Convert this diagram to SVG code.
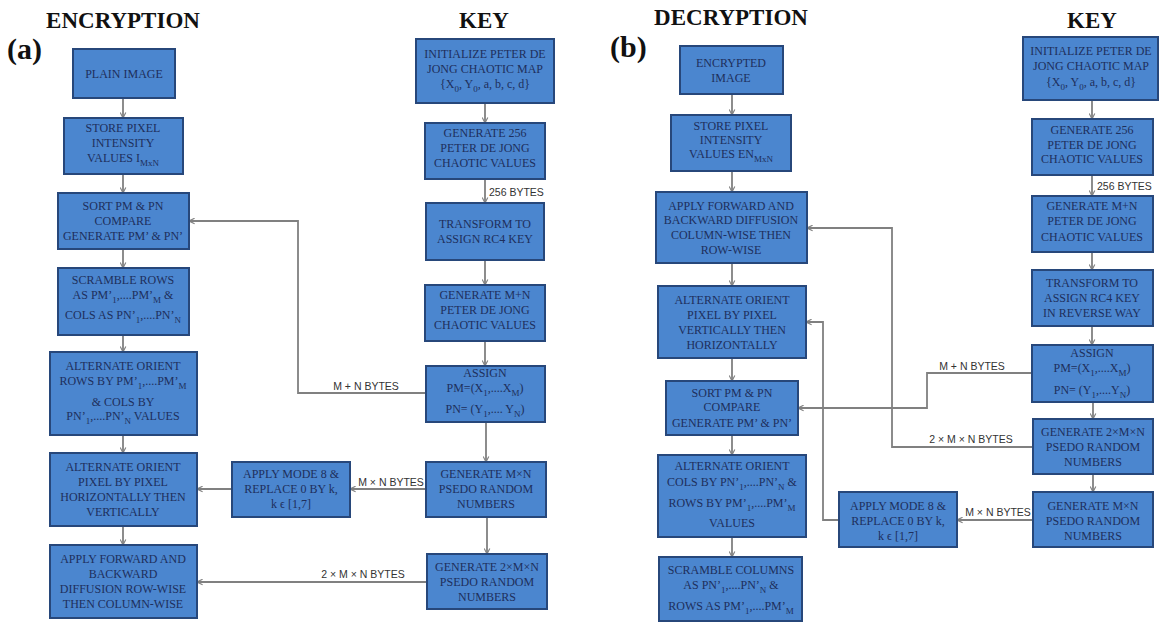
<svg xmlns="http://www.w3.org/2000/svg" width="1159" height="623" viewBox="0 0 1159 623">
  <defs>
    <marker id="arr" viewBox="0 0 10 10" refX="9" refY="5" markerWidth="7" markerHeight="7" orient="auto" markerUnits="userSpaceOnUse">
      <path d="M1,1 L9,5 L1,9" fill="none" stroke="#808080" stroke-width="1.6"/>
    </marker>
    <style>
      .box { fill: #4b86cf; stroke: #27477a; stroke-width: 2; }
      .t { font-family: "Liberation Serif", "Times New Roman", serif; font-size: 12px; fill: #1e2f5c; text-anchor: middle; }
      .sub { font-size: 9px; }
      .title { font-family: "Liberation Serif", "Times New Roman", serif; font-weight: bold; font-size: 23px; fill: #111; text-anchor: middle; }
      .tag { font-family: "Liberation Serif", "Times New Roman", serif; font-weight: bold; font-size: 30px; fill: #111; }
      .lbl { font-family: "Liberation Sans", Arial, sans-serif; font-size: 10.5px; fill: #333; }
      .c { fill: none; stroke: #808080; stroke-width: 1.8; marker-end: url(#arr); }
    </style>
  </defs>
  <rect width="1159" height="623" fill="#ffffff"/>

  <!-- headings -->
  <g id="headings">
    <text class="title" x="123" y="28">ENCRYPTION</text>
    <text class="title" x="484" y="28">KEY</text>
    <text class="title" x="731" y="25">DECRYPTION</text>
    <text class="title" x="1092" y="28">KEY</text>
    <text class="tag" x="7" y="59">(a)</text>
    <text class="tag" x="610" y="57">(b)</text>
  </g>

  <!-- connectors -->
  <g id="connectors">
    <!-- (a) encryption chain -->
    <path class="c" d="M123,98 V118"/>
    <path class="c" d="M123,174 V193"/>
    <path class="c" d="M123,249 V268"/>
    <path class="c" d="M123,335 V352"/>
    <path class="c" d="M123,435 V453"/>
    <path class="c" d="M123,526 V545"/>
    <!-- (a) key chain -->
    <path class="c" d="M485,103 V123"/>
    <path class="c" d="M485,179 V203"/>
    <path class="c" d="M485,260 V285"/>
    <path class="c" d="M485,341 V366"/>
    <path class="c" d="M486,422 V462"/>
    <path class="c" d="M487,517 V554"/>
    <!-- (a) cross links -->
    <path class="c" d="M426,393 H298 V221 H189"/>
    <path class="c" d="M426,489 H350"/>
    <path class="c" d="M232,489 H197"/>
    <path class="c" d="M427,582 H197"/>
    <text class="lbl" x="489" y="196">256 BYTES</text>
    <text class="lbl" x="366" y="390" text-anchor="middle">M + N BYTES</text>
    <text class="lbl" x="391" y="486" text-anchor="middle">M × N BYTES</text>
    <text class="lbl" x="363" y="578" text-anchor="middle">2 × M × N BYTES</text>

    <!-- (b) decryption chain -->
    <path class="c" d="M732,94 V115"/>
    <path class="c" d="M732,171 V192"/>
    <path class="c" d="M732,263 V286"/>
    <path class="c" d="M732,358 V381"/>
    <path class="c" d="M732,435 V455"/>
    <path class="c" d="M732,537 V557"/>
    <!-- (b) key chain -->
    <path class="c" d="M1092,100 V119"/>
    <path class="c" d="M1092,175 V196"/>
    <path class="c" d="M1092,252 V270"/>
    <path class="c" d="M1092,326 V345"/>
    <path class="c" d="M1093,402 V419"/>
    <path class="c" d="M1093,474 V492"/>
    <!-- (b) cross links -->
    <path class="c" d="M1032,373 H927 V408 H798"/>
    <path class="c" d="M1033,447 H892 V228 H807"/>
    <path class="c" d="M1033,520 H957"/>
    <path class="c" d="M839,520 H823 V322 H806"/>
    <text class="lbl" x="1097" y="190">256 BYTES</text>
    <text class="lbl" x="972" y="370" text-anchor="middle">M + N BYTES</text>
    <text class="lbl" x="971" y="443" text-anchor="middle">2 × M × N BYTES</text>
    <text class="lbl" x="998" y="516" text-anchor="middle">M × N BYTES</text>
  </g>

  <!-- (a) encryption nodes -->
  <g id="enc-plain">
    <rect class="box" x="73" y="49" width="102" height="49"/>
    <text class="t" x="124" y="78">PLAIN IMAGE</text>
  </g>
  <g id="enc-store">
    <rect class="box" x="64" y="118" width="119" height="56"/>
    <text class="t" x="123" y="132">STORE PIXEL</text>
    <text class="t" x="123" y="147">INTENSITY</text>
    <text class="t" x="123" y="162">VALUES I<tspan class="sub" dy="4">MxN</tspan></text>
  </g>
  <g id="enc-sort">
    <rect class="box" x="58" y="193" width="131" height="56"/>
    <text class="t" x="123" y="210">SORT PM &amp; PN</text>
    <text class="t" x="123" y="225">COMPARE</text>
    <text class="t" x="123" y="240">GENERATE PM’ &amp; PN’</text>
  </g>
  <g id="enc-scramble">
    <rect class="box" x="58" y="268" width="131" height="67"/>
    <text class="t" x="123" y="284">SCRAMBLE ROWS</text>
    <text class="t" x="123" y="299">AS PM’<tspan class="sub" dy="4">1</tspan><tspan dy="-4">,....PM’</tspan><tspan class="sub" dy="4">M</tspan><tspan dy="-4"> &amp;</tspan></text>
    <text class="t" x="123" y="319">COLS AS PN’<tspan class="sub" dy="4">1</tspan><tspan dy="-4">,....PN’</tspan><tspan class="sub" dy="4">N</tspan></text>
  </g>
  <g id="enc-orient-rows">
    <rect class="box" x="50" y="352" width="147" height="83"/>
    <text class="t" x="123" y="370">ALTERNATE ORIENT</text>
    <text class="t" x="123" y="385">ROWS BY PM’<tspan class="sub" dy="4">1</tspan><tspan dy="-4">,....PM’</tspan><tspan class="sub" dy="4">M</tspan></text>
    <text class="t" x="123" y="406">&amp; COLS BY</text>
    <text class="t" x="123" y="420">PN’<tspan class="sub" dy="4">1</tspan><tspan dy="-4">,....PN’</tspan><tspan class="sub" dy="4">N</tspan><tspan dy="-4"> VALUES</tspan></text>
  </g>
  <g id="enc-orient-pixel">
    <rect class="box" x="50" y="453" width="147" height="73"/>
    <text class="t" x="123" y="471">ALTERNATE ORIENT</text>
    <text class="t" x="123" y="486">PIXEL BY PIXEL</text>
    <text class="t" x="123" y="501">HORIZONTALLY THEN</text>
    <text class="t" x="123" y="516">VERTICALLY</text>
  </g>
  <g id="enc-diffusion">
    <rect class="box" x="50" y="545" width="147" height="73"/>
    <text class="t" x="123" y="563">APPLY FORWARD AND</text>
    <text class="t" x="123" y="578">BACKWARD</text>
    <text class="t" x="123" y="593">DIFFUSION ROW-WISE</text>
    <text class="t" x="123" y="608">THEN COLUMN-WISE</text>
  </g>

  <!-- (a) key nodes -->
  <g id="key-a-init">
    <rect class="box" x="416" y="39" width="138" height="64"/>
    <text class="t" x="485" y="58">INITIALIZE PETER DE</text>
    <text class="t" x="485" y="73">JONG CHAOTIC MAP</text>
    <text class="t" x="485" y="88">{X<tspan class="sub" dy="4">0</tspan><tspan dy="-4">, Y</tspan><tspan class="sub" dy="4">0</tspan><tspan dy="-4">, a, b, c, d}</tspan></text>
  </g>
  <g id="key-a-gen256">
    <rect class="box" x="425" y="123" width="120" height="56"/>
    <text class="t" x="485" y="137">GENERATE 256</text>
    <text class="t" x="485" y="152">PETER DE JONG</text>
    <text class="t" x="485" y="167">CHAOTIC VALUES</text>
  </g>
  <g id="key-a-rc4">
    <rect class="box" x="426" y="203" width="118" height="57"/>
    <text class="t" x="485" y="228">TRANSFORM TO</text>
    <text class="t" x="485" y="243">ASSIGN RC4 KEY</text>
  </g>
  <g id="key-a-genmn">
    <rect class="box" x="425" y="285" width="120" height="56"/>
    <text class="t" x="485" y="299">GENERATE M+N</text>
    <text class="t" x="485" y="314">PETER DE JONG</text>
    <text class="t" x="485" y="329">CHAOTIC VALUES</text>
  </g>
  <g id="key-a-assign">
    <rect class="box" x="426" y="366" width="119" height="56"/>
    <text class="t" x="485" y="377">ASSIGN</text>
    <text class="t" x="485" y="392">PM=(X<tspan class="sub" dy="4">1</tspan><tspan dy="-4">,....X</tspan><tspan class="sub" dy="4">M</tspan><tspan dy="-4">)</tspan></text>
    <text class="t" x="485" y="413">PN= (Y<tspan class="sub" dy="4">1</tspan><tspan dy="-4">,.... Y</tspan><tspan class="sub" dy="4">N</tspan><tspan dy="-4">)</tspan></text>
  </g>
  <g id="key-a-prng">
    <rect class="box" x="426" y="462" width="120" height="55"/>
    <text class="t" x="486" y="478">GENERATE M×N</text>
    <text class="t" x="486" y="493">PSEDO RANDOM</text>
    <text class="t" x="486" y="508">NUMBERS</text>
  </g>
  <g id="key-a-mode">
    <rect class="box" x="232" y="462" width="118" height="55"/>
    <text class="t" x="291" y="478">APPLY MODE 8 &amp;</text>
    <text class="t" x="291" y="493">REPLACE 0 BY k,</text>
    <text class="t" x="291" y="508">k ϵ [1,7]</text>
  </g>
  <g id="key-a-prng2">
    <rect class="box" x="427" y="554" width="120" height="55"/>
    <text class="t" x="487" y="571">GENERATE 2×M×N</text>
    <text class="t" x="487" y="586">PSEDO RANDOM</text>
    <text class="t" x="487" y="601">NUMBERS</text>
  </g>

  <!-- (b) decryption nodes -->
  <g id="dec-encrypted">
    <rect class="box" x="680" y="46" width="103" height="48"/>
    <text class="t" x="731" y="67">ENCRYPTED</text>
    <text class="t" x="731" y="82">IMAGE</text>
  </g>
  <g id="dec-store">
    <rect class="box" x="671" y="115" width="120" height="56"/>
    <text class="t" x="731" y="130">STORE PIXEL</text>
    <text class="t" x="731" y="144">INTENSITY</text>
    <text class="t" x="731" y="158">VALUES EN<tspan class="sub" dy="4">MxN</tspan></text>
  </g>
  <g id="dec-diffusion">
    <rect class="box" x="656" y="192" width="151" height="71"/>
    <text class="t" x="731" y="210">APPLY FORWARD AND</text>
    <text class="t" x="731" y="224">BACKWARD DIFFUSION</text>
    <text class="t" x="731" y="239">COLUMN-WISE THEN</text>
    <text class="t" x="731" y="254">ROW-WISE</text>
  </g>
  <g id="dec-orient-pixel">
    <rect class="box" x="658" y="286" width="148" height="72"/>
    <text class="t" x="732" y="304">ALTERNATE ORIENT</text>
    <text class="t" x="732" y="319">PIXEL BY PIXEL</text>
    <text class="t" x="732" y="334">VERTICALLY THEN</text>
    <text class="t" x="732" y="349">HORIZONTALLY</text>
  </g>
  <g id="dec-sort">
    <rect class="box" x="666" y="381" width="132" height="54"/>
    <text class="t" x="732" y="397">SORT PM &amp; PN</text>
    <text class="t" x="732" y="411">COMPARE</text>
    <text class="t" x="732" y="427">GENERATE PM’ &amp; PN’</text>
  </g>
  <g id="dec-orient-cols">
    <rect class="box" x="658" y="455" width="148" height="82"/>
    <text class="t" x="732" y="470">ALTERNATE ORIENT</text>
    <text class="t" x="732" y="486">COLS BY PN’<tspan class="sub" dy="4">1</tspan><tspan dy="-4">,....PN’</tspan><tspan class="sub" dy="4">N</tspan><tspan dy="-4"> &amp;</tspan></text>
    <text class="t" x="732" y="507">ROWS BY PM’<tspan class="sub" dy="4">1</tspan><tspan dy="-4">,....PM’</tspan><tspan class="sub" dy="4">M</tspan></text>
    <text class="t" x="732" y="527">VALUES</text>
  </g>
  <g id="dec-scramble">
    <rect class="box" x="659" y="557" width="143" height="64"/>
    <text class="t" x="731" y="574">SCRAMBLE COLUMNS</text>
    <text class="t" x="731" y="589">AS PN’<tspan class="sub" dy="4">1</tspan><tspan dy="-4">,....PN’</tspan><tspan class="sub" dy="4">N</tspan><tspan dy="-4"> &amp;</tspan></text>
    <text class="t" x="731" y="610">ROWS AS PM’<tspan class="sub" dy="4">1</tspan><tspan dy="-4">,....PM’</tspan><tspan class="sub" dy="4">M</tspan></text>
  </g>

  <!-- (b) key nodes -->
  <g id="key-b-init">
    <rect class="box" x="1023" y="37" width="135" height="63"/>
    <text class="t" x="1091" y="55">INITIALIZE PETER DE</text>
    <text class="t" x="1091" y="70">JONG CHAOTIC MAP</text>
    <text class="t" x="1091" y="86">{X<tspan class="sub" dy="4">0</tspan><tspan dy="-4">, Y</tspan><tspan class="sub" dy="4">0</tspan><tspan dy="-4">, a, b, c, d}</tspan></text>
  </g>
  <g id="key-b-gen256">
    <rect class="box" x="1032" y="119" width="121" height="56"/>
    <text class="t" x="1092" y="134">GENERATE 256</text>
    <text class="t" x="1092" y="149">PETER DE JONG</text>
    <text class="t" x="1092" y="163">CHAOTIC VALUES</text>
  </g>
  <g id="key-b-genmn">
    <rect class="box" x="1032" y="196" width="121" height="56"/>
    <text class="t" x="1092" y="210">GENERATE M+N</text>
    <text class="t" x="1092" y="225">PETER DE JONG</text>
    <text class="t" x="1092" y="241">CHAOTIC VALUES</text>
  </g>
  <g id="key-b-rc4">
    <rect class="box" x="1032" y="270" width="121" height="56"/>
    <text class="t" x="1092" y="287">TRANSFORM TO</text>
    <text class="t" x="1092" y="302">ASSIGN RC4 KEY</text>
    <text class="t" x="1092" y="317">IN REVERSE WAY</text>
  </g>
  <g id="key-b-assign">
    <rect class="box" x="1032" y="345" width="121" height="57"/>
    <text class="t" x="1092" y="357">ASSIGN</text>
    <text class="t" x="1092" y="372">PM=(X<tspan class="sub" dy="4">1</tspan><tspan dy="-4">,....X</tspan><tspan class="sub" dy="4">M</tspan><tspan dy="-4">)</tspan></text>
    <text class="t" x="1092" y="394">PN= (Y<tspan class="sub" dy="4">1</tspan><tspan dy="-4">,....Y</tspan><tspan class="sub" dy="4">N</tspan><tspan dy="-4">)</tspan></text>
  </g>
  <g id="key-b-prng2">
    <rect class="box" x="1033" y="419" width="120" height="55"/>
    <text class="t" x="1093" y="436">GENERATE 2×M×N</text>
    <text class="t" x="1093" y="451">PSEDO RANDOM</text>
    <text class="t" x="1093" y="466">NUMBERS</text>
  </g>
  <g id="key-b-prng">
    <rect class="box" x="1033" y="492" width="120" height="55"/>
    <text class="t" x="1093" y="510">GENERATE M×N</text>
    <text class="t" x="1093" y="525">PSEDO RANDOM</text>
    <text class="t" x="1093" y="540">NUMBERS</text>
  </g>
  <g id="key-b-mode">
    <rect class="box" x="839" y="492" width="118" height="55"/>
    <text class="t" x="898" y="510">APPLY MODE 8 &amp;</text>
    <text class="t" x="898" y="525">REPLACE 0 BY k,</text>
    <text class="t" x="898" y="540">k ϵ [1,7]</text>
  </g>
</svg>
